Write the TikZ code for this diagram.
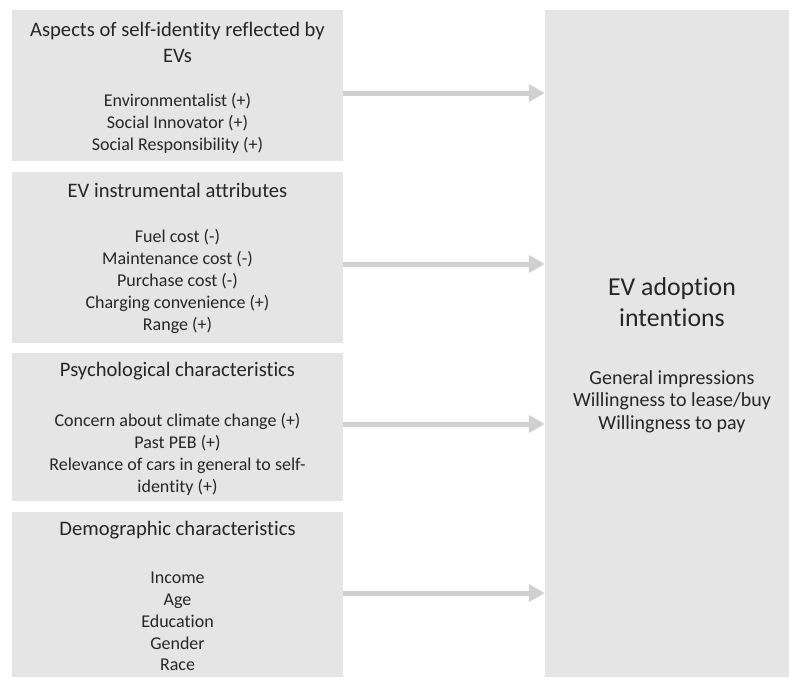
\documentclass[tikz,border=0pt]{standalone}
\usepackage{fontspec}
\setmainfont{Carlito}[Ligatures=NoCommon]
\usetikzlibrary{arrows.meta}
\definecolor{boxgray}{HTML}{E5E5E5}
\definecolor{arrowgray}{HTML}{D0D0D0}
\definecolor{inkgray}{HTML}{262626}

\begin{document}
\begin{tikzpicture}[x=1pt, y=-1pt,
    factorbox/.style={fill=boxgray, inner sep=0pt, minimum width=331pt},
    headtext/.style={text=inkgray, align=center, font=\fontsize{20.6}{26}\selectfont},
    itemtext/.style={text=inkgray, align=center, font=\fontsize{18}{21.8}\selectfont},
    flow/.style={arrowgray, line width=5pt, -{Triangle[length=16pt, width=17pt]}}]
      \useasboundingbox (0, 0) rectangle (789, 677);
      % boxes on the left and the outcome box
      \node [factorbox, minimum height=151pt] (identity) at (177.5, 85.5) {};
      \node [factorbox, minimum height=171pt] (instrument) at (177.5, 257.5) {};
      \node [factorbox, minimum height=148pt] (psych) at (177.5, 427) {};
      \node [factorbox, minimum height=165pt] (demo) at (177.5, 594.5) {};
      \node [fill=boxgray, inner sep=0pt, minimum width=244pt, minimum height=667pt] (intent) at (667, 343.5) {};
      % texts
      \node [headtext] (identityhead) at (177.5, 42) {Aspects of self-identity reflected by\\EVs};
      \node [itemtext] (identityitems) at (177.5, 123.5) {Environmentalist (+)\\Social Innovator (+)\\Social Responsibility (+)};
      \node [headtext] (instrumenthead) at (177.5, 190) {EV instrumental attributes};
      \node [itemtext] (instrumentitems) at (177.5, 281.5) {Fuel cost (-)\\Maintenance cost (-)\\Purchase cost (-)\\Charging convenience (+)\\Range (+)};
      \node [headtext] (psychhead) at (177.5, 371) {Psychological characteristics};
      \node [itemtext] (psychitems) at (177.5, 454.5) {Concern about climate change (+)\\Past PEB (+)\\Relevance of cars in general to self-\\identity (+)};
      \node [headtext] (demohead) at (177.5, 530) {Demographic characteristics};
      \node [itemtext] (demoitems) at (177.5, 621.5) {Income\\Age\\Education\\Gender\\Race};
      \node [text=inkgray, align=center, font=\fontsize{25.8}{31}\selectfont] (intenthead) at (672, 302.5) {EV adoption\\intentions};
      \node [text=inkgray, align=center, font=\fontsize{20}{22.5}\selectfont] (intentitems) at (672, 401.5) {General impressions\\Willingness to lease/buy\\Willingness to pay};
      % arrows
      \draw [flow] (identity.east |- 0, 93) -- (intent.west |- 0, 93);
      \draw [flow] (instrument.east |- 0, 264) -- (intent.west |- 0, 264);
      \draw [flow] (psych.east |- 0, 424) -- (intent.west |- 0, 424);
      \draw [flow] (demo.east |- 0, 593) -- (intent.west |- 0, 593);
    \end{tikzpicture}
\end{document}
